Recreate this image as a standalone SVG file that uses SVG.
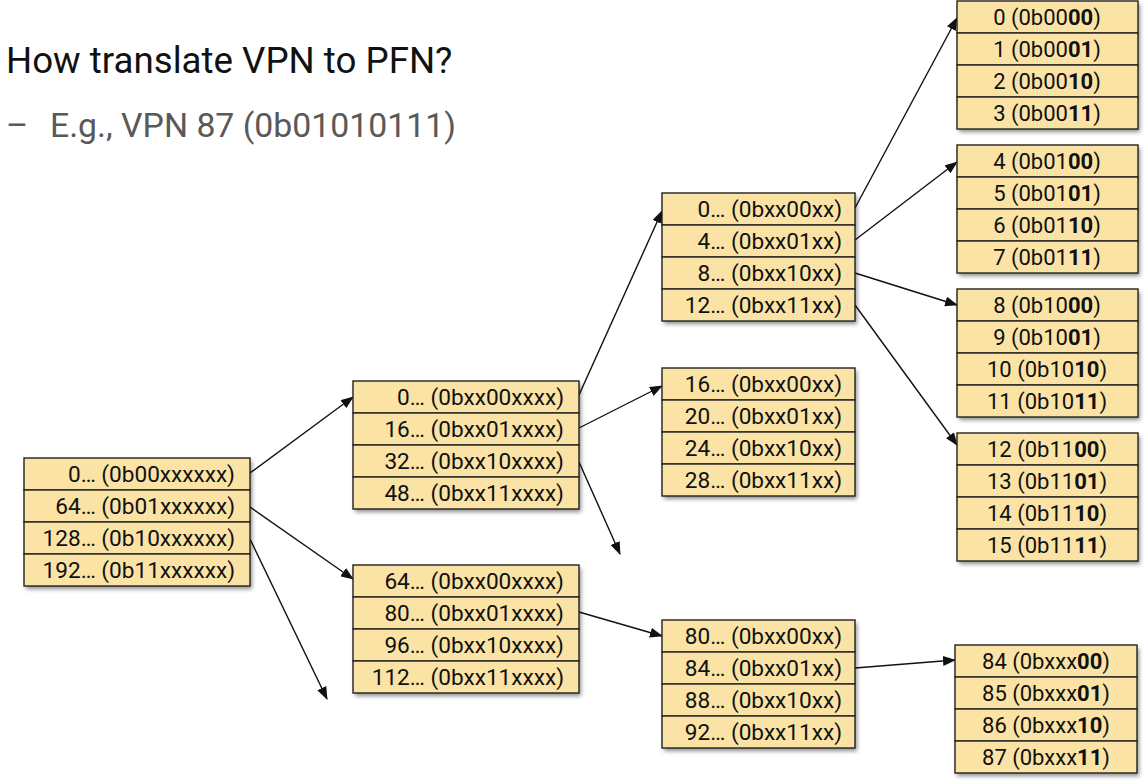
<svg xmlns="http://www.w3.org/2000/svg" width="1148" height="782" viewBox="0 0 1148 782">
<defs>
<style>
.t{font-family:Roboto,"Liberation Sans",sans-serif;font-size:22px;fill:#111}
.r{text-anchor:end;font-size:22.6px}
.c{text-anchor:middle}
.b{font-weight:bold}
.cell{fill:#fae3a5;stroke:#222;stroke-width:1.4}
.bg{fill:#fae3a5;filter:url(#sh)}
.conn{stroke:#111;stroke-width:1.4;fill:none;marker-end:url(#ah)}
</style>
<filter id="sh" x="-10%" y="-10%" width="130%" height="130%">
<feDropShadow dx="2" dy="3" stdDeviation="2" flood-color="#000" flood-opacity="0.45"/>
</filter>
<marker id="ah" markerWidth="13" markerHeight="10" refX="12" refY="5" orient="auto" markerUnits="userSpaceOnUse">
<path d="M0,0 L13,5 L0,10 Z" fill="#111"/>
</marker>
</defs>
<rect width="1148" height="782" fill="#fff"/>
<text x="6" y="73" font-family="Roboto,'Liberation Sans',sans-serif" font-size="36.7" fill="#111">How translate VPN to PFN?</text>
<text x="6" y="137" font-family="Roboto,'Liberation Sans',sans-serif" font-size="33.8" fill="#595959">–</text>
<text x="50" y="137" font-family="Roboto,'Liberation Sans',sans-serif" font-size="33.8" fill="#595959">E.g., VPN 87 (0b01010111)</text>

<g id="connectors">
<line class="conn" x1="250" y1="473" x2="353" y2="397"/>
<line class="conn" x1="250" y1="507" x2="353" y2="579"/>
<line class="conn" x1="250" y1="539" x2="327" y2="699"/>
<line class="conn" x1="579" y1="395" x2="662" y2="211"/>
<line class="conn" x1="579" y1="428" x2="662" y2="386"/>
<line class="conn" x1="579" y1="462" x2="620" y2="554"/>
<line class="conn" x1="579" y1="612" x2="662" y2="636"/>
<line class="conn" x1="855" y1="668" x2="955" y2="660"/>
<line class="conn" x1="855" y1="208" x2="957" y2="18"/>
<line class="conn" x1="855" y1="240" x2="957" y2="162"/>
<line class="conn" x1="855" y1="273" x2="957" y2="305"/>
<line class="conn" x1="855" y1="305" x2="957" y2="445"/>
</g>

<g id="root">
<rect class="bg" x="24" y="458" width="226" height="128"/>
<rect class="cell" x="24" y="458" width="226" height="32"/>
<rect class="cell" x="24" y="490" width="226" height="32"/>
<rect class="cell" x="24" y="522" width="226" height="32"/>
<rect class="cell" x="24" y="554" width="226" height="32"/>
<text class="t r" x="235" y="482">0… (0b00xxxxxx)</text>
<text class="t r" x="235" y="514">64… (0b01xxxxxx)</text>
<text class="t r" x="235" y="546">128… (0b10xxxxxx)</text>
<text class="t r" x="235" y="578">192… (0b11xxxxxx)</text>
</g>

<g id="l2a">
<rect class="bg" x="353" y="381" width="226" height="128"/>
<rect class="cell" x="353" y="381" width="226" height="32"/>
<rect class="cell" x="353" y="413" width="226" height="32"/>
<rect class="cell" x="353" y="445" width="226" height="32"/>
<rect class="cell" x="353" y="477" width="226" height="32"/>
<text class="t r" x="564" y="405">0… (0bxx00xxxx)</text>
<text class="t r" x="564" y="437">16… (0bxx01xxxx)</text>
<text class="t r" x="564" y="469">32… (0bxx10xxxx)</text>
<text class="t r" x="564" y="501">48… (0bxx11xxxx)</text>
</g>

<g id="l2b">
<rect class="bg" x="353" y="565" width="226" height="128"/>
<rect class="cell" x="353" y="565" width="226" height="32"/>
<rect class="cell" x="353" y="597" width="226" height="32"/>
<rect class="cell" x="353" y="629" width="226" height="32"/>
<rect class="cell" x="353" y="661" width="226" height="32"/>
<text class="t r" x="564" y="589">64… (0bxx00xxxx)</text>
<text class="t r" x="564" y="621">80… (0bxx01xxxx)</text>
<text class="t r" x="564" y="653">96… (0bxx10xxxx)</text>
<text class="t r" x="564" y="685">112… (0bxx11xxxx)</text>
</g>

<g id="l3a">
<rect class="bg" x="662" y="193" width="193" height="128"/>
<rect class="cell" x="662" y="193" width="193" height="32"/>
<rect class="cell" x="662" y="225" width="193" height="32"/>
<rect class="cell" x="662" y="257" width="193" height="32"/>
<rect class="cell" x="662" y="289" width="193" height="32"/>
<text class="t r" x="842" y="217">0… (0bxx00xx)</text>
<text class="t r" x="842" y="249">4… (0bxx01xx)</text>
<text class="t r" x="842" y="281">8… (0bxx10xx)</text>
<text class="t r" x="842" y="313">12… (0bxx11xx)</text>
</g>

<g id="l3b">
<rect class="bg" x="662" y="368" width="193" height="128"/>
<rect class="cell" x="662" y="368" width="193" height="32"/>
<rect class="cell" x="662" y="400" width="193" height="32"/>
<rect class="cell" x="662" y="432" width="193" height="32"/>
<rect class="cell" x="662" y="464" width="193" height="32"/>
<text class="t r" x="842" y="392">16… (0bxx00xx)</text>
<text class="t r" x="842" y="424">20… (0bxx01xx)</text>
<text class="t r" x="842" y="456">24… (0bxx10xx)</text>
<text class="t r" x="842" y="488">28… (0bxx11xx)</text>
</g>

<g id="l3c">
<rect class="bg" x="662" y="620" width="193" height="128"/>
<rect class="cell" x="662" y="620" width="193" height="32"/>
<rect class="cell" x="662" y="652" width="193" height="32"/>
<rect class="cell" x="662" y="684" width="193" height="32"/>
<rect class="cell" x="662" y="716" width="193" height="32"/>
<text class="t r" x="842" y="644">80… (0bxx00xx)</text>
<text class="t r" x="842" y="676">84… (0bxx01xx)</text>
<text class="t r" x="842" y="708">88… (0bxx10xx)</text>
<text class="t r" x="842" y="740">92… (0bxx11xx)</text>
</g>

<g id="leaf0">
<rect class="bg" x="957" y="1" width="181" height="128"/>
<rect class="cell" x="957" y="1" width="181" height="32"/>
<rect class="cell" x="957" y="33" width="181" height="32"/>
<rect class="cell" x="957" y="65" width="181" height="32"/>
<rect class="cell" x="957" y="97" width="181" height="32"/>
<text class="t c" x="1047" y="25">0 (0b00<tspan class="b">00</tspan>)</text>
<text class="t c" x="1047" y="57">1 (0b00<tspan class="b">01</tspan>)</text>
<text class="t c" x="1047" y="89">2 (0b00<tspan class="b">10</tspan>)</text>
<text class="t c" x="1047" y="121">3 (0b00<tspan class="b">11</tspan>)</text>
</g>

<g id="leaf4">
<rect class="bg" x="957" y="145" width="181" height="128"/>
<rect class="cell" x="957" y="145" width="181" height="32"/>
<rect class="cell" x="957" y="177" width="181" height="32"/>
<rect class="cell" x="957" y="209" width="181" height="32"/>
<rect class="cell" x="957" y="241" width="181" height="32"/>
<text class="t c" x="1047" y="169">4 (0b01<tspan class="b">00</tspan>)</text>
<text class="t c" x="1047" y="201">5 (0b01<tspan class="b">01</tspan>)</text>
<text class="t c" x="1047" y="233">6 (0b01<tspan class="b">10</tspan>)</text>
<text class="t c" x="1047" y="265">7 (0b01<tspan class="b">11</tspan>)</text>
</g>

<g id="leaf8">
<rect class="bg" x="957" y="289" width="181" height="128"/>
<rect class="cell" x="957" y="289" width="181" height="32"/>
<rect class="cell" x="957" y="321" width="181" height="32"/>
<rect class="cell" x="957" y="353" width="181" height="32"/>
<rect class="cell" x="957" y="385" width="181" height="32"/>
<text class="t c" x="1047" y="313">8 (0b10<tspan class="b">00</tspan>)</text>
<text class="t c" x="1047" y="345">9 (0b10<tspan class="b">01</tspan>)</text>
<text class="t c" x="1047" y="377">10 (0b10<tspan class="b">10</tspan>)</text>
<text class="t c" x="1047" y="409">11 (0b10<tspan class="b">11</tspan>)</text>
</g>

<g id="leaf12">
<rect class="bg" x="957" y="433" width="181" height="128"/>
<rect class="cell" x="957" y="433" width="181" height="32"/>
<rect class="cell" x="957" y="465" width="181" height="32"/>
<rect class="cell" x="957" y="497" width="181" height="32"/>
<rect class="cell" x="957" y="529" width="181" height="32"/>
<text class="t c" x="1047" y="457">12 (0b11<tspan class="b">00</tspan>)</text>
<text class="t c" x="1047" y="489">13 (0b11<tspan class="b">01</tspan>)</text>
<text class="t c" x="1047" y="521">14 (0b11<tspan class="b">10</tspan>)</text>
<text class="t c" x="1047" y="553">15 (0b11<tspan class="b">11</tspan>)</text>
</g>

<g id="leaf84">
<rect class="bg" x="955" y="645" width="182" height="128"/>
<rect class="cell" x="955" y="645" width="182" height="32"/>
<rect class="cell" x="955" y="677" width="182" height="32"/>
<rect class="cell" x="955" y="709" width="182" height="32"/>
<rect class="cell" x="955" y="741" width="182" height="32"/>
<text class="t c" x="1046" y="669">84 (0bxxx<tspan class="b">00</tspan>)</text>
<text class="t c" x="1046" y="701">85 (0bxxx<tspan class="b">01</tspan>)</text>
<text class="t c" x="1046" y="733">86 (0bxxx<tspan class="b">10</tspan>)</text>
<text class="t c" x="1046" y="765">87 (0bxxx<tspan class="b">11</tspan>)</text>
</g>
</svg>
